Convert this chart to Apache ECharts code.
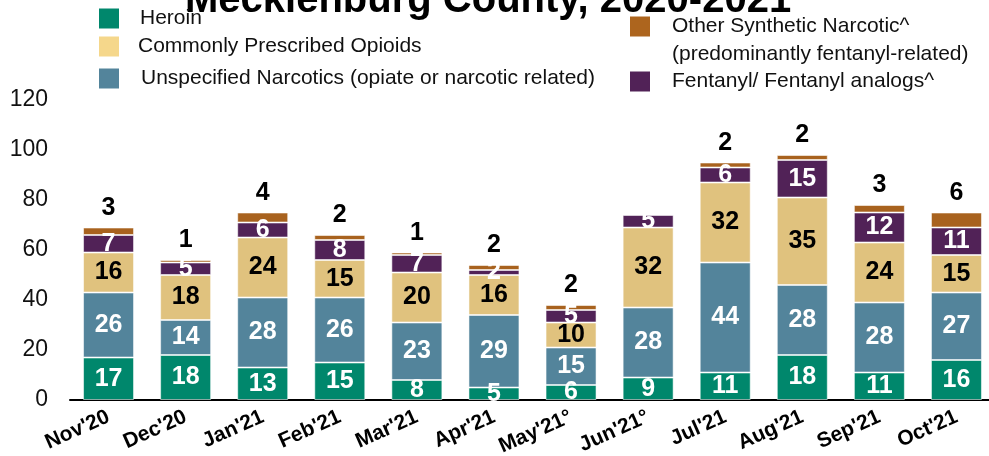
<!DOCTYPE html>
<html>
<head>
<meta charset="utf-8">
<script src="https://cdn.jsdelivr.net/npm/echarts@6/dist/echarts.min.js"></script>
<style>html,body{margin:0;padding:0;background:#fff;}#c{width:989px;height:456px;}</style>
</head>
<body>
<div id="c"></div>
<script>
const categories = ["Nov'20","Dec'20","Jan'21","Feb'21","Mar'21","Apr'21","May'21°","Jun'21°","Jul'21","Aug'21","Sep'21","Oct'21"];
const heroin = [17,18,13,15,8,5,6,9,11,18,11,16];
const unspecified = [26,14,28,26,23,29,15,28,44,28,28,27];
const prescribed = [16,18,24,15,20,16,10,32,32,35,24,15];
const fentanyl = [7,5,6,8,7,2,5,5,6,15,12,11];
const otherSynthetic = [3,1,4,2,1,2,2,null,2,2,3,6];
const yTicks = [0,20,40,60,80,100,120];

const FONT = "'Liberation Sans', Arial, sans-serif";
const chart = echarts.init(document.getElementById('c'));

function lbl(color) {
  return {show: true, position: 'inside', color: color, fontFamily: FONT, fontWeight: 'bold', fontSize: 25};
}
const border = {borderColor: 'rgba(255,255,255,0.55)', borderWidth: 1};

function legendAt(name, left, top, pad, swatch) {
  return {
    left: left, top: top, padding: 0, itemWidth: 20, itemHeight: 20, icon: 'rect',
    selectedMode: false,
    data: [{name: name, itemStyle: {color: swatch, borderWidth: 0}}],
    textStyle: {fontFamily: FONT, fontSize: 21, color: '#111', padding: [0, 0, 0, pad]}
  };
}

const names = {
  h: 'Heroin',
  p: 'Commonly Prescribed Opioids',
  u: 'Unspecified Narcotics (opiate or narcotic related)',
  o: 'Other Synthetic Narcotic^',
  f: 'Fentanyl/ Fentanyl analogs^'
};

chart.setOption({
  animation: false,
  graphic: [
    {type: 'text', left: 185, top: -19, style: {text: 'Mecklenburg County, 2020-2021', font: "bold 40px 'Liberation Sans', Arial, sans-serif", fill: '#000'}},
    {type: 'text', left: 672, top: 44, style: {text: '(predominantly fentanyl-related)', font: "21px 'Liberation Sans', Arial, sans-serif", fill: '#111'}}
  ],
  legend: [
    legendAt(names.h, 99, 8, 16, '#00876C'),
    legendAt(names.p, 99, 36, 14, '#F5D78B'),
    legendAt(names.u, 99, 68, 17, '#53849B'),
    legendAt(names.o, 630, 16, 17, '#AD651E'),
    legendAt(names.f, 630, 71, 17, '#512257')
  ],
  grid: {left: 70, right: -6, top: 100, bottom: 56, containLabel: false, outerBoundsMode: 'none'},
  xAxis: {
    type: 'category', data: categories,
    axisLine: {show: true, lineStyle: {color: '#000', width: 2}},
    axisTick: {show: false},
    axisLabel: {rotate: 24, margin: 16, interval: 0, color: '#000', fontFamily: FONT, fontWeight: 'bold', fontSize: 21}
  },
  yAxis: {
    type: 'value', min: yTicks[0], max: yTicks[yTicks.length - 1], interval: yTicks[1] - yTicks[0],
    axisLine: {show: false}, axisTick: {show: false}, splitLine: {show: false},
    axisLabel: {margin: 22, color: '#111', fontFamily: FONT, fontSize: 23}
  },
  series: [
    {name: names.h, type: 'bar', stack: 'a', barWidth: 51, data: heroin, itemStyle: Object.assign({color: '#00876C'}, border), label: lbl('#fff')},
    {name: names.u, type: 'bar', stack: 'a', barWidth: 51, data: unspecified, itemStyle: Object.assign({color: '#53849B'}, border), label: lbl('#fff')},
    {name: names.p, type: 'bar', stack: 'a', barWidth: 51, data: prescribed, itemStyle: Object.assign({color: '#E0C27E'}, border), label: lbl('#000')},
    {name: names.f, type: 'bar', stack: 'a', barWidth: 51, data: fentanyl, itemStyle: Object.assign({color: '#512257'}, border), label: lbl('#fff')},
    {name: names.o, type: 'bar', stack: 'a', barWidth: 51, data: otherSynthetic, itemStyle: Object.assign({color: '#A8621E'}, border),
     label: Object.assign(lbl('#000'), {position: 'top', distance: 7})}
  ]
});
</script>
</body>
</html>
